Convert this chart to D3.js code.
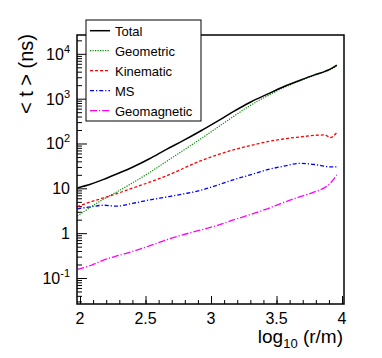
<!DOCTYPE html>
<html><head><meta charset="utf-8">
<script src="https://cdn.jsdelivr.net/npm/d3@7"></script>
<style>body{margin:0;background:#fff}svg{display:block}</style>
</head><body>
<svg id="c" width="382" height="358"></svg>
<script>
const xVals = [1.98,2.08,2.18,2.28,2.40,2.53,2.66,2.79,2.92,3.05,3.17,3.30,3.43,3.55,3.68,3.79,3.87,3.91,3.96];
const total = [10.2,12.3,15.8,20.9,29.5,45.7,74,117,190,316,513,832,1260,1820,2570,3390,4070,4570,5620];
const geometric = [2.4,3.8,5.75,8.3,13.2,22.4,39.8,70.8,126,229,398,708,1150,1740,2510,3310,3980,4470,5370];
const kinematic = [3.9,5.0,6.1,7.6,10.1,13.7,19,28,41,56,72,90,110,126,140,152,155,135,175];
const ms = [3.5,3.85,4.2,4.0,4.6,5.5,6.4,7.5,9.0,11.8,15.5,20,26,31,36,34,31,30,30];
const geomagnetic = [0.155,0.19,0.25,0.31,0.39,0.52,0.71,0.93,1.17,1.5,1.97,2.6,3.5,4.8,6.5,8.3,10.5,13,20];
const seriesNames = ["Total","Geometric","Kinematic","MS","Geomagnetic"];
const xTicks = [2,2.5,3,3.5,4];
const yTicks = [0.1,1,10,100,1000,10000];
const yTickBase = ["10","1","10","10","10","10"];
const yTickExp = ["-1","","","2","3","4"];

const series = [total, geometric, kinematic, ms, geomagnetic];
const colors = ["#000000","#008800","#ff0000","#0000ff","#ff00ff"];
const dashes = [null,"1.2 1.3","3 2","4 2 1.2 2","7 2 1.2 2"];
const widths = [1.5,1.2,1.3,1.3,1.3];

const L=77,R=344,T=35,B=304;
const svg = d3.select("#c");
const x = d3.scaleLinear().domain([1.977,4.015]).range([L,R]);
const y = d3.scaleLog().domain([0.0263,26300]).range([B,T]);
const font = "Liberation Sans, Arial, Helvetica, sans-serif";

// axes ticks (inside)
const gx = svg.append("g").attr("transform",`translate(0,${B})`);
gx.call(d3.axisBottom(x).tickValues(d3.range(20,41).map(d=>d/10)).tickSize(-4).tickFormat(""));
gx.append("g").call(d3.axisBottom(x).tickValues(xTicks).tickSize(-8).tickFormat(""));
gx.selectAll(".domain").remove();
gx.selectAll("line").attr("stroke","#000").attr("stroke-width",1);

const minors=[];
for(let e=-2;e<=4;e++) for(let m=2;m<=9;m++){const v=m*Math.pow(10,e); if(v>y.domain()[0]&&v<y.domain()[1]) minors.push(v);}
const gy = svg.append("g").attr("transform",`translate(${L},0)`);
gy.call(d3.axisLeft(y).tickValues(minors).tickSize(-5).tickFormat(""));
gy.append("g").call(d3.axisLeft(y).tickValues(yTicks).tickSize(-10).tickFormat(""));
gy.selectAll(".domain").remove();
gy.selectAll("line").attr("stroke","#000").attr("stroke-width",1);

// x tick labels
svg.append("g").selectAll("text").data(xTicks).join("text")
  .attr("x",d=>x(d)).attr("y",324).attr("text-anchor","middle")
  .attr("font-family",font).attr("font-size",16).text(d=>d);

// y tick labels
const yl = svg.append("g").selectAll("text").data(yTicks).join("text")
  .attr("x",70).attr("y",(d)=>y(d)+6).attr("text-anchor","end")
  .attr("font-family",font).attr("font-size",16);
yl.each(function(d,i){
  const t=d3.select(this);
  t.append("tspan").text(yTickBase[i]);
  if(yTickExp[i]) t.append("tspan").attr("dy",-7).attr("font-size",11).text(yTickExp[i]);
});

// lines
const line = d3.line().x((d,i)=>x(xVals[i])).y(d=>y(d)).curve(d3.curveMonotoneX);
svg.append("clipPath").attr("id","pc").append("rect").attr("x",L).attr("y",T).attr("width",R-L).attr("height",B-T);
const gl = svg.append("g").attr("clip-path","url(#pc)");
[4,3,2,1,0].forEach(k=>{
  gl.append("path").attr("d",line(series[k])).attr("fill","none")
    .attr("stroke",colors[k]).attr("stroke-width",widths[k])
    .attr("stroke-dasharray",dashes[k]);
});

// frame
svg.append("rect").attr("x",L).attr("y",T).attr("width",R-L).attr("height",B-T)
  .attr("fill","none").attr("stroke","#000").attr("stroke-width",1.5);

// axis titles
const xt = svg.append("text").attr("x",343).attr("y",343).attr("text-anchor","end")
  .attr("font-family",font).attr("font-size",19);
xt.append("tspan").text("log");
xt.append("tspan").attr("font-size",13).attr("dy",5).text("10");
xt.append("tspan").attr("dy",-5).text(" (r/m)");

svg.append("text").attr("transform","translate(33,74) rotate(-90)").attr("text-anchor","middle")
  .attr("font-family",font).attr("font-size",20).text("< t > (ns)");

// legend
const lg = svg.append("g");
lg.append("rect").attr("x",86).attr("y",20).attr("width",115).attr("height",101)
  .attr("fill","#fff").attr("stroke","#000").attr("stroke-width",1);
seriesNames.forEach((n,k)=>{
  const yy = 30.7 + k*20;
  lg.append("line").attr("x1",90).attr("x2",110).attr("y1",yy).attr("y2",yy)
    .attr("stroke",colors[k]).attr("stroke-width",widths[k]).attr("stroke-dasharray",dashes[k]);
  lg.append("text").attr("x",115).attr("y",yy+5).attr("font-family",font).attr("font-size",13).text(n);
});
</script>
</body></html>
